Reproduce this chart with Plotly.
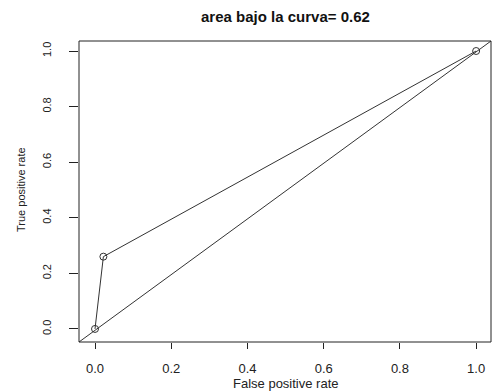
import plotly.graph_objects as go

fpr = [0.0, 0.022, 1.0]
tpr = [0.0, 0.26, 1.0]
title_text = "area bajo la curva= 0.62"
x_title = "False positive rate"
y_title = "True positive rate"
tick_vals = [0.0, 0.2, 0.4, 0.6, 0.8, 1.0]
tick_text = ["0.0", "0.2", "0.4", "0.6", "0.8", "1.0"]

fig = go.Figure()
fig.add_trace(go.Scatter(
    x=fpr, y=tpr, mode="lines+markers",
    line=dict(color="#333333", width=1),
    marker=dict(symbol="circle-open", size=7, color="#333333", line=dict(width=1)),
    showlegend=False, hoverinfo="skip"))

# abline(0,1) : diagonal across the full plotting region
fig.add_shape(type="line", xref="x domain", yref="y domain",
              x0=0, y0=0, x1=1, y1=1, line=dict(color="#333333", width=1))
# box
fig.add_shape(type="rect", xref="paper", yref="paper", x0=0, y0=0, x1=1, y1=1,
              line=dict(color="#222222", width=1))

axis_common = dict(showgrid=False, zeroline=False, showline=False, automargin=False,
                   ticks="outside", tickcolor="#222222", tickwidth=1,
                   tickvals=tick_vals, ticktext=tick_text)

# plot area: x 79..491, y 41..342 of 495x392
W, H = 495, 392
L, R, T, B = 79, 4, 41, 50
pw, ph = W - L - R, H - T - B

fig.update_layout(
    width=W, height=H,
    margin=dict(l=L, r=R, t=T, b=B),
    paper_bgcolor="white", plot_bgcolor="white",
    font=dict(family="Liberation Sans, Arial, sans-serif", color="#222222"),
    xaxis=dict(range=[-0.042, 1.039], tickfont=dict(size=13), ticklen=6,
               ticklabelstandoff=8, **axis_common),
    yaxis=dict(range=[-0.047, 1.036], tickfont=dict(size=11), tickangle=-90, ticklen=9,
               ticklabelstandoff=14, **axis_common),
    annotations=[
        dict(text="<b>" + title_text + "</b>", xref="paper", yref="paper",
             x=0.5, y=1 + (41 - 16) / ph, xanchor="center", yanchor="middle",
             showarrow=False, font=dict(size=15, color="#111111")),
        dict(text=x_title, xref="paper", yref="paper",
             x=(286 - L) / pw, y=-(383 - (T + ph)) / ph, xanchor="center", yanchor="middle",
             showarrow=False, font=dict(size=13)),
        dict(text=y_title, xref="paper", yref="paper", textangle=-90,
             x=-(L - 21) / pw, y=1 - (190 - T) / ph, xanchor="center", yanchor="middle",
             showarrow=False,
             font=dict(size=11, family="Liberation Sans Narrow, Liberation Sans, Arial")),
    ],
)

fig.write_html("out.html", config={"displayModeBar": False},
               post_script="document.body.style.margin='0';document.body.style.overflow='hidden';")
